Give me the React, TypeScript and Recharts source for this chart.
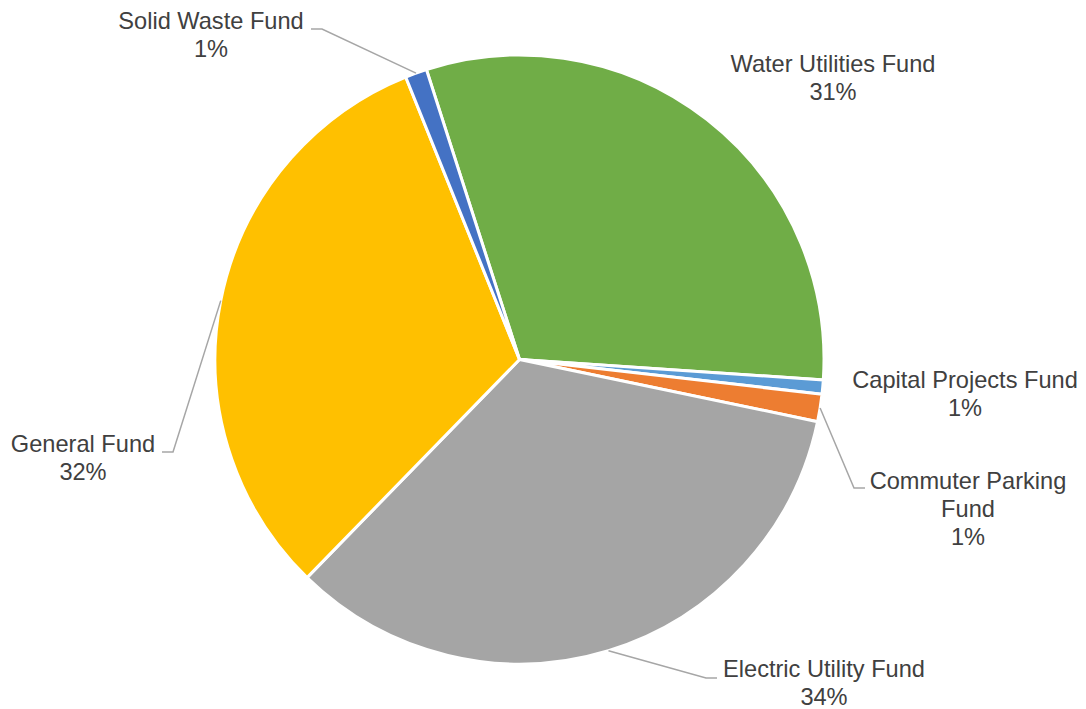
import { PieChart, Pie, Cell } from "recharts";

const funds = [
  "Water Utilities Fund",
  "Capital Projects Fund",
  "Commuter Parking Fund",
  "Electric Utility Fund",
  "General Fund",
  "Solid Waste Fund",
];
const shares = [31.0, 0.75, 1.45, 34.0, 31.6, 1.15];
const colors = ["#70AD47", "#5B9BD5", "#ED7D31", "#A5A5A5", "#FFC000", "#4472C4"];

const data = funds.map((name, i) => ({ name, value: shares[i] }));

// label placement (relative to pie center), Excel-style manual layout
const labelLayout: {
  lines: string[];
  tx: number;
  ty: number;
  lead?: { x: number; y: number; dir: number };
}[] = [
  { lines: ["Water Utilities Fund"], tx: 313.5, ty: -295.5 },
  { lines: ["Capital Projects Fund"], tx: 445.5, ty: 20.5 },
  {
    lines: ["Commuter Parking", "Fund"],
    tx: 448.5,
    ty: 121.5,
    lead: { x: 345.5, y: 128.5, dir: 1 },
  },
  {
    lines: ["Electric Utility Fund"],
    tx: 304.5,
    ty: 309.5,
    lead: { x: 197.5, y: 318.5, dir: 1 },
  },
  {
    lines: ["General Fund"],
    tx: -436.5,
    ty: 84.5,
    lead: { x: -357.5, y: 92.5, dir: -1 },
  },
  {
    lines: ["Solid Waste Fund"],
    tx: -308.5,
    ty: -338.5,
    lead: { x: -208.5, y: -330.5, dir: -1 },
  },
];

const RAD = Math.PI / 180;
const LINE_H = 28;

const renderLabel = (props: any) => {
  const { cx, cy, midAngle, outerRadius, percent, index } = props;
  const lay = labelLayout[index];
  if (!lay) return null;
  const lines = [...lay.lines, `${Math.round(percent * 100)}%`];
  const tx = cx + lay.tx;
  const ty = cy + lay.ty;
  let leader = null;
  if (lay.lead) {
    const sx = cx + outerRadius * Math.cos(-midAngle * RAD);
    const sy = cy + outerRadius * Math.sin(-midAngle * RAD);
    const ex = cx + lay.lead.x;
    const ey = cy + lay.lead.y;
    const elbowX = ex - lay.lead.dir * 11;
    leader = (
      <polyline
        points={`${sx},${sy} ${elbowX},${ey} ${ex},${ey}`}
        fill="none"
        stroke="#A6A6A6"
        strokeWidth={1.5}
      />
    );
  }
  return (
    <g key={`lbl-${index}`}>
      {leader}
      {lines.map((t, i) => (
        <text
          key={i}
          x={tx}
          y={ty + i * LINE_H}
          textAnchor="middle"
          dominantBaseline="central"
          fill="#404040"
          fontSize={23.6}
          fontFamily="'Liberation Sans', Arial, sans-serif"
        >
          {t}
        </text>
      ))}
    </g>
  );
};

export default function App() {
  return (
    <div style={{ position: "absolute", left: 0, top: 0, background: "#fff" }}>
      <PieChart width={1086} height={709} margin={{ top: 0, right: 0, bottom: 0, left: 0 }}>
        <Pie
          data={data}
          dataKey="value"
          nameKey="name"
          cx={519.5}
          cy={359.5}
          outerRadius={304.5}
          startAngle={107.8}
          endAngle={-252.2}
          stroke="#FFFFFF"
          strokeWidth={3}
          label={renderLabel}
          labelLine={false}
          isAnimationActive={false}
        >
          {data.map((d, i) => (
            <Cell key={d.name} fill={colors[i]} />
          ))}
        </Pie>
      </PieChart>
    </div>
  );
}
